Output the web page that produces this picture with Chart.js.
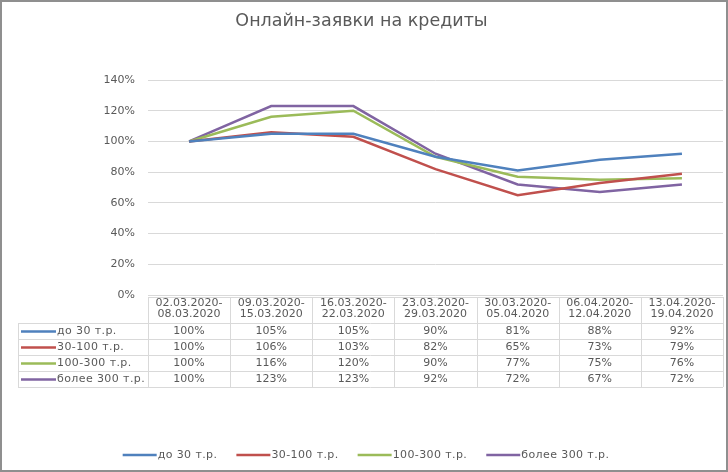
<!DOCTYPE html>
<html>
<head>
<meta charset="utf-8">
<script src="https://cdn.jsdelivr.net/npm/chart.js@4/dist/chart.umd.min.js"></script>
<style>
html,body{margin:0;padding:0;background:#fff;}
#wrap{width:728px;height:472px;position:relative;}
canvas{display:block;}
</style>
</head>
<body>
<div id="wrap"><canvas id="c" width="728" height="472"></canvas></div>
<script>
// ---- data ----
const categories = [
  ["02.03.2020-", "08.03.2020"],
  ["09.03.2020-", "15.03.2020"],
  ["16.03.2020-", "22.03.2020"],
  ["23.03.2020-", "29.03.2020"],
  ["30.03.2020-", "05.04.2020"],
  ["06.04.2020-", "12.04.2020"],
  ["13.04.2020-", "19.04.2020"]
];
const seriesNames = ["до 30 т.р.", "30-100 т.р.", "100-300 т.р.", "более 300 т.р."];
const upTo30 = [100, 105, 105, 90, 81, 88, 92];
const from30to100 = [100, 106, 103, 82, 65, 73, 79];
const from100to300 = [100, 116, 120, 90, 77, 75, 76];
const over300 = [100, 123, 123, 92, 72, 67, 72];
const yTickValues = [0, 20, 40, 60, 80, 100, 120, 140];
const titleText = "Онлайн-заявки на кредиты";

const seriesValues = [upTo30, from30to100, from100to300, over300];
const colors = ["#4F81BD", "#C0504D", "#9BBB59", "#8064A2"];
const textColor = "#595959";
const lineColor = "#d9d9d9";
const FONT = "'DejaVu Sans', sans-serif";

const tablePlugin = {
  id: "tableAndLegend",
  afterDraw(chart) {
    const ctx = chart.ctx;
    const xs = chart.scales.x;
    const n = categories.length;
    const colW = (xs.right - xs.left) / n;
    const headTop = 297;
    const rowTop = 323;
    const rowH = 16;
    const rows = seriesNames.length;
    const tableBottom = rowTop + rowH * rows;
    const labelLeft = 18;
    ctx.save();
    ctx.strokeStyle = lineColor;
    ctx.lineWidth = 1;
    // header top border
    ctx.beginPath();
    ctx.moveTo(xs.left, headTop + 0.5);
    ctx.lineTo(xs.right, headTop + 0.5);
    ctx.stroke();
    // horizontal row lines
    for (let r = 0; r <= rows; r++) {
      const y = Math.round(rowTop + r * rowH) + 0.5;
      ctx.beginPath();
      ctx.moveTo(labelLeft, y);
      ctx.lineTo(xs.right, y);
      ctx.stroke();
    }
    // vertical lines
    for (let i = 0; i <= n; i++) {
      const x = Math.round(xs.left + i * colW) + 0.5;
      ctx.beginPath();
      ctx.moveTo(x, headTop);
      ctx.lineTo(x, tableBottom);
      ctx.stroke();
    }
    ctx.beginPath();
    ctx.moveTo(labelLeft + 0.5, rowTop);
    ctx.lineTo(labelLeft + 0.5, tableBottom);
    ctx.stroke();

    // rows
    ctx.font = "11px " + FONT;
    ctx.fillStyle = textColor;
    ctx.textBaseline = "middle";
    for (let r = 0; r < rows; r++) {
      const cy = rowTop + r * rowH + rowH / 2 + 0.5;
      ctx.strokeStyle = colors[r];
      ctx.lineWidth = 2.5;
      ctx.beginPath();
      ctx.moveTo(21, cy);
      ctx.lineTo(56, cy);
      ctx.stroke();
      ctx.textAlign = "left";
      ctx.letterSpacing = "0.4px";
      ctx.fillText(seriesNames[r], 57, cy);
      ctx.letterSpacing = "0px";
      ctx.textAlign = "center";
      seriesValues[r].forEach((v, i) => {
        ctx.fillText(v + "%", xs.getPixelForValue(i), cy);
      });
    }

    // legend
    const ly = 455;
    const lineLen = 34, gap = 1, spacing = 19;
    ctx.letterSpacing = "0.4px";
    const widths = seriesNames.map(s => ctx.measureText(s).width);
    let total = 0;
    widths.forEach((w, i) => { total += lineLen + gap + w + (i < widths.length - 1 ? spacing : 0); });
    let x = 366 - total / 2;
    ctx.textAlign = "left";
    seriesNames.forEach((s, i) => {
      ctx.strokeStyle = colors[i];
      ctx.lineWidth = 2.5;
      ctx.beginPath();
      ctx.moveTo(x, ly);
      ctx.lineTo(x + lineLen, ly);
      ctx.stroke();
      ctx.fillStyle = textColor;
      ctx.fillText(s, x + lineLen + gap, ly);
      x += lineLen + gap + widths[i] + spacing;
    });
    ctx.letterSpacing = "0px";

    // frame
    ctx.strokeStyle = "#8f8f8f";
    ctx.lineWidth = 2;
    ctx.strokeRect(1, 1, chart.width - 2, chart.height - 2);
    ctx.restore();
  }
};

new Chart(document.getElementById("c"), {
  type: "line",
  data: {
    labels: categories,
    datasets: seriesNames.map((name, i) => ({
      label: name,
      data: seriesValues[i],
      borderColor: colors[i],
      backgroundColor: colors[i],
      borderWidth: 2.5,
      pointRadius: 0,
      pointHoverRadius: 0,
      tension: 0,
      fill: false
    }))
  },
  options: {
    responsive: false,
    animation: false,
    layout: { padding: { top: 0, left: 0, right: 5, bottom: 150 } },
    plugins: {
      legend: { display: false },
      tooltip: { enabled: false },
      title: {
        display: true,
        text: titleText,
        color: textColor,
        font: { family: FONT, size: 17.5, weight: "normal", lineHeight: 1.2 },
        padding: { top: 11, bottom: 48 }
      }
    },
    scales: {
      x: {
        offset: true,
        grid: { display: false, drawTicks: false },
        border: { display: false },
        ticks: {
          color: textColor,
          font: { family: FONT, size: 11, lineHeight: 1 },
          padding: 3,
          maxRotation: 0,
          minRotation: 0,
          autoSkip: false
        },
        afterFit(s) { s.height = 27; }
      },
      y: {
        min: 0,
        max: 140,
        afterBuildTicks(s) { s.ticks = yTickValues.map(v => ({ value: v })); },
        grid: { color: lineColor, drawTicks: false, lineWidth: 1 },
        border: { display: false },
        ticks: {
          color: textColor,
          font: { family: FONT, size: 11 },
          padding: 13,
          callback: v => v + "%"
        },
        afterFit(s) { s.width = 148; }
      }
    }
  },
  plugins: [tablePlugin]
});
</script>
</body>
</html>
